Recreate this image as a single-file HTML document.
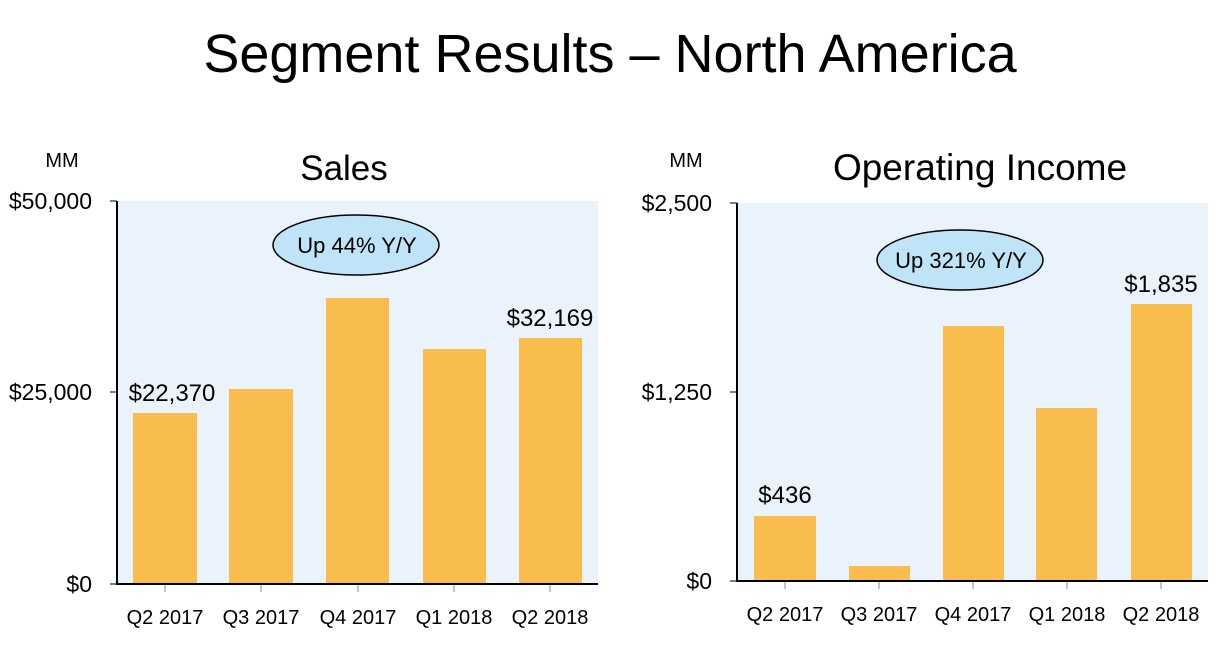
<!DOCTYPE html>
<html><head><meta charset="utf-8"><style>
html,body{margin:0;padding:0;background:#fff;}
svg{display:block;font-family:"Liberation Sans",Arial,sans-serif;}
</style></head><body>
<svg width="1226" height="654" viewBox="0 0 1226 654" xmlns="http://www.w3.org/2000/svg">
<rect width="1226" height="654" fill="#fff"/>
<text x="610" y="72" font-size="54" text-anchor="middle" fill="#000">Segment Results – North America</text>

<!-- Left chart -->
<text x="62" y="167" font-size="20" text-anchor="middle">MM</text>
<text x="344" y="180" font-size="35" text-anchor="middle">Sales</text>
<rect x="117" y="201" width="481" height="383" fill="#eaf3fc"/>
<g fill="#f8bd4c">
<rect x="133" y="413" width="64" height="171"/>
<rect x="229" y="389" width="64" height="195"/>
<rect x="326" y="298" width="63" height="286"/>
<rect x="423" y="349" width="63" height="235"/>
<rect x="519" y="338" width="63" height="246"/>
</g>
<g stroke="#000" stroke-width="2"><line x1="117" y1="201" x2="117" y2="585"/><line x1="116" y1="584" x2="598" y2="584"/></g>
<g stroke="#000" stroke-width="1"><line x1="110" y1="201" x2="117" y2="201"/><line x1="110" y1="392" x2="117" y2="392"/><line x1="110" y1="584" x2="117" y2="584"/></g>
<g stroke="#888" stroke-width="1"><line x1="165" y1="585" x2="165" y2="592"/><line x1="261" y1="585" x2="261" y2="592"/><line x1="358" y1="585" x2="358" y2="592"/><line x1="454" y1="585" x2="454" y2="592"/><line x1="550" y1="585" x2="550" y2="592"/></g>
<g font-size="23" text-anchor="end"><text x="92" y="209">$50,000</text><text x="92" y="400">$25,000</text><text x="92" y="592">$0</text></g>
<g font-size="20" text-anchor="middle"><text x="165" y="624">Q2 2017</text><text x="261" y="624">Q3 2017</text><text x="358" y="624">Q4 2017</text><text x="454" y="624">Q1 2018</text><text x="550" y="624">Q2 2018</text></g>
<text x="172" y="401" font-size="24" text-anchor="middle">$22,370</text>
<text x="550" y="326" font-size="24" text-anchor="middle">$32,169</text>
<ellipse cx="356" cy="245" rx="83" ry="30" fill="#bfe4f7" stroke="#000" stroke-width="1.5"/>
<text x="357" y="253" font-size="22" text-anchor="middle">Up 44% Y/Y</text>

<!-- Right chart -->
<text x="686" y="167" font-size="20" text-anchor="middle">MM</text>
<text x="980" y="180" font-size="37" text-anchor="middle">Operating Income</text>
<rect x="737" y="203" width="471" height="378" fill="#eaf3fc"/>
<g fill="#f8bd4c">
<rect x="754" y="516" width="62" height="65"/>
<rect x="849" y="566" width="61" height="15"/>
<rect x="943" y="326" width="61" height="255"/>
<rect x="1036" y="408" width="61" height="173"/>
<rect x="1131" y="304" width="61" height="277"/>
</g>
<g stroke="#000" stroke-width="2"><line x1="737" y1="203" x2="737" y2="582"/><line x1="736" y1="581" x2="1208" y2="581"/></g>
<g stroke="#000" stroke-width="1"><line x1="730" y1="203" x2="737" y2="203"/><line x1="730" y1="392" x2="737" y2="392"/><line x1="730" y1="581" x2="737" y2="581"/></g>
<g stroke="#888" stroke-width="1"><line x1="785" y1="582" x2="785" y2="589"/><line x1="879" y1="582" x2="879" y2="589"/><line x1="973" y1="582" x2="973" y2="589"/><line x1="1067" y1="582" x2="1067" y2="589"/><line x1="1161" y1="582" x2="1161" y2="589"/></g>
<g font-size="23" text-anchor="end"><text x="712" y="211">$2,500</text><text x="712" y="400">$1,250</text><text x="712" y="589">$0</text></g>
<g font-size="20" text-anchor="middle"><text x="785" y="621">Q2 2017</text><text x="879" y="621">Q3 2017</text><text x="973" y="621">Q4 2017</text><text x="1067" y="621">Q1 2018</text><text x="1161" y="621">Q2 2018</text></g>
<text x="785" y="503" font-size="24" text-anchor="middle">$436</text>
<text x="1161" y="292" font-size="24" text-anchor="middle">$1,835</text>
<ellipse cx="960" cy="260" rx="83" ry="30" fill="#bfe4f7" stroke="#000" stroke-width="1.5"/>
<text x="961" y="268" font-size="22" text-anchor="middle">Up 321% Y/Y</text>
</svg>
</body></html>
